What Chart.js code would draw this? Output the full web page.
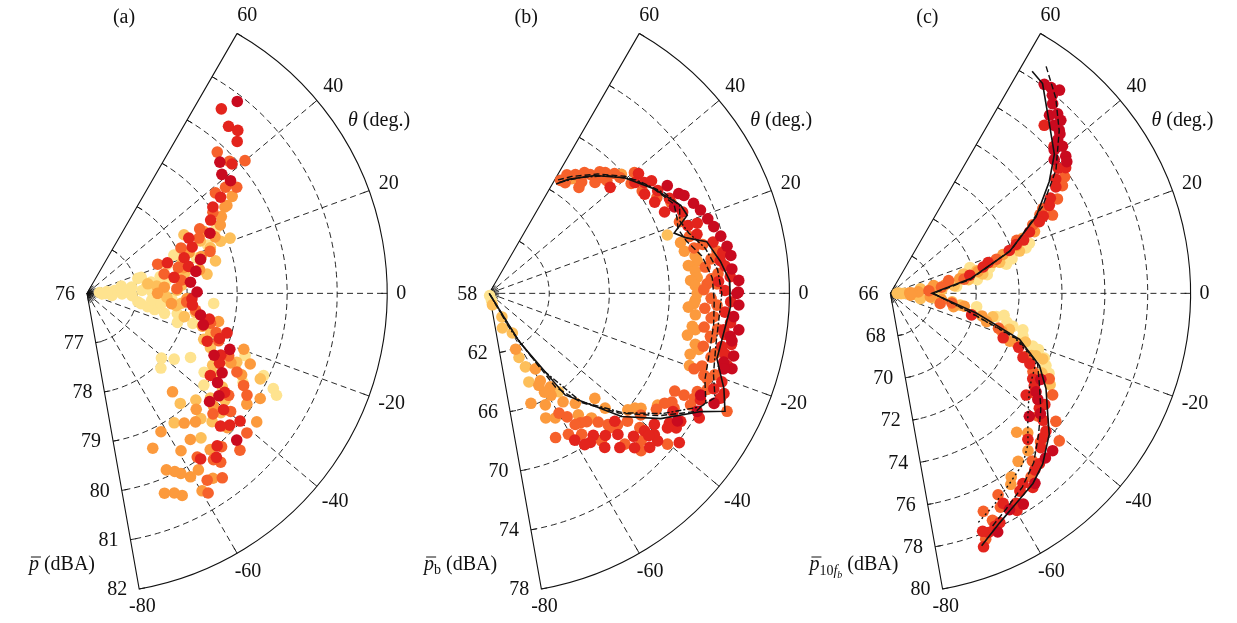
<!DOCTYPE html>
<html>
<head>
<meta charset="utf-8">
<title>Polar directivity (a)(b)(c)</title>
<script src="https://cdn.jsdelivr.net/npm/chart.js@4.4.1/dist/chart.umd.min.js"></script>
<style>
  body { margin: 0; background: #fff; }
  #wrap { position: relative; width: 1237px; height: 623px; }
  #wrap canvas { position: absolute; left: 0; top: 0; }
</style>
</head>
<body>
<div id="wrap">
  <canvas id="chartA" width="1237" height="623"></canvas>
  <canvas id="chartB" width="1237" height="623"></canvas>
  <canvas id="chartC" width="1237" height="623"></canvas>
</div>
<script>
// angular and radial ticks
const thetaTicks = [-80, -60, -40, -20, 0, 20, 40, 60];
const radialA = [76, 77, 78, 79, 80, 81, 82];
const radialB = [58, 62, 66, 70, 74, 78];
const radialC = [66, 68, 70, 72, 74, 76, 78, 80];

// point groups, [theta (deg), level (dBA)], lightest colour first
// panel (a)
const aPts0 = [[0,76.36],[12,76.7],[16.5,77.06],[-9.5,77.03],[-13.6,77.39],[0,77.54],[-12.7,77.85],[16.6,77.13],[8,76.9],[6,76.55],[-1,76.7],[-12.6,77.24],[-14.6,77.6],[4,76.25],[-5,76.5],[10,77.3],[-6,77.3],[3,77.1],[20,77.7],[24,77.9],[-18,77.9],[-16,78.2],[18,78.3],[22,78.6],[27,78.9],[2,76.8],[-3,76.9],[7,77.2],[-8,77.5],[13,77.5],[-11,77.1],[1,77.3],[5,76.4],[-2,76.3],[9,77.6],[-4,77.7],[-27.3,80.19],[-25.2,79.9],[-21.7,79.4],[-30,79.6],[-26,79.1],[-28.5,80.31],[-37.3,78.19],[-45.6,78.11],[-32,78.44],[-41.3,77.98],[-4.6,78.54],[-34.2,78.83],[-38.4,78.98]];
const aPts1 = [[21.3,79.07],[21.5,78.87],[20.4,78.63],[14.3,78.65],[9.2,78.43],[31.4,78.27],[9,77.23],[5,77.9],[12,78.0],[25,78.5],[6,77.4],[2,77.8],[14,77.9],[18,78.0],[-3,77.6],[-8,77.8],[-6,77.9],[-10,78.2],[-13.6,78.0],[-18,78.6],[-21.7,78.51],[-24,78.7],[-24.9,79.3],[-26.5,79.87],[-30,78.9],[-33,79.0],[-35,79.3],[-38,79.5],[-40.6,79.25],[-42,79.6],[-44.7,79.06],[-46,79.6],[-48,79.4],[-50,78.9],[-52,79.7],[-56.3,79.14]];
const aPts2 = [[34,79.5],[32.3,79.26],[32.4,79.31],[30,79.1],[27.4,79.0],[28.1,78.65],[24,78.8],[22,78.2],[18,78.4],[15,78.0],[12,78.3],[4.6,77.55],[0,77.41],[-3,78.0],[-7,77.7],[-12.2,78.69],[-16,78.4],[-19.8,79.33],[-23.6,79.56],[-26,79.2],[-28,79.5],[-31.5,80.06],[-35,79.9],[-37.4,80.27],[-42,79.4],[-44,79.9],[-47,79.2],[-49.3,78.62],[-50.1,79.38],[-52,80.0],[-53.4,79.26],[-55,79.6],[-56,80.5],[-58,80.2],[-59.4,79.69],[-60,80.6],[-60.8,80.24],[-62.1,79.16],[-62.7,80.09],[-64,80.0],[-65,80.5],[-66,79.9],[-66.6,80.39],[-67.2,79.39],[-69,80.32]];
const aPts3 = [[47.6,79.86],[43.1,79.9],[40.3,80.14],[37.7,79.5],[35.6,79.68],[38.3,79.27],[33,79.0],[30,78.6],[26.5,78.5],[26,78.09],[19,78.6],[16,77.9],[14.2,77.59],[22.6,77.53],[8,77.9],[3,77.8],[-5,78.0],[-9,78.2],[-13.7,78.54],[-17,78.7],[-20,78.8],[-24,79.1],[-27.9,79.39],[-30.7,79.64],[-32.7,79.8],[-36,79.5],[-39.7,79.73],[-41.4,80.26],[-44,79.5],[-46,80.4],[-49,80.1],[-51.9,80.33],[-53,80.2],[-54,80.6],[-56.3,79.97],[-57.5,80.47],[-59,80.7]];
const aPts4 = [[54.2,80.59],[50,80.4],[47.5,80.46],[45.6,80.29],[42,79.9],[36,79.3],[34.7,79.06],[30.9,78.88],[28.7,78.32],[24,78.3],[20.3,78.07],[21,77.72],[15,78.1],[10.5,77.77],[-3,78.1],[-6.4,78.12],[-12,78.5],[-15.9,78.91],[-19,78.8],[-21.9,78.59],[-25,78.95],[-28,79.0],[-33.9,78.97],[-36,79.4],[-40.1,80.0],[-40.7,79.6],[-43,79.9],[-45.1,79.78],[-49.8,80.03],[-52,80.2],[-55.8,80.04]];
const aPts5 = [[52.2,80.9],[44.9,79.75],[41.7,79.61],[38.4,79.66],[26.3,78.74],[16.8,78.37],[11.5,78.22],[6.2,78.08],[0.7,78.2],[-10.9,78.31],[-15.3,78.41],[-21.6,79.07],[-26.2,78.83],[-30.7,79.14],[-34.6,79.17],[-38.1,79.35],[-41.7,79.28],[-44.7,80.21]];

// panel (b)
const bPts0 = [[-80,58.15],[-72,58.5]];
const bPts1 = [[18.3,70.5],[-55.1,66.07],[-66.1,64.52],[-65.3,62.75],[-69.4,60.49],[-60,61.08],[-74.6,58.8],[-62,59.8],[-64,63.5]];
const bPts2 = [[54.5,67.48],[42.3,69.9],[15,71.2],[12.3,71.31],[10.4,71.95],[8.9,72.03],[8,71.4],[6.3,71.81],[4.4,71.9],[3.7,71.45],[2.2,71.74],[0,71.86],[-1.9,71.74],[-2.9,71.66],[-4,71.3],[-6,71.81],[-9.3,71.71],[-10.1,71.95],[-12,71.5],[-14,72.15],[-15.1,72.47],[-17,72.0],[-20,72.2],[-33.8,71.5],[-37.4,70.73],[-38.5,70.4],[-40.3,70.11],[-45,68.92],[-45.1,67.97],[-50.9,68.8],[-52.2,67.36],[-54,68.1],[-56,66.8],[-57,65.5],[-58.8,63.94],[-59,66.0],[-60,64.8],[-61,65.6],[-61.9,65.01],[-62.3,67.47],[-63.5,66.38],[-64.9,62.15],[-65.8,67.19],[-69.4,65.9]];
const bPts3 = [[58,66.96],[57,67.5],[55.8,67.0],[54.3,67.84],[52,68.3],[50.6,67.7],[50,67.3],[49.9,68.45],[48,69.0],[46.6,68.26],[46.4,69.21],[46.2,68.8],[44,69.6],[44,68.9],[41.8,69.69],[40,70.63],[38,70.0],[34,70.3],[30,70.9],[26.9,71.57],[20.8,71.56],[16,71.87],[13,72.6],[12.6,71.98],[10.6,73.44],[8.9,72.96],[7,72.5],[5,73.3],[3.8,72.82],[2.5,72.53],[2.4,73.19],[1,72.3],[-1.3,72.79],[-3,73.2],[-4,72.4],[-6,73.04],[-6.4,72.88],[-9,72.5],[-9,73.4],[-11.1,73.02],[-11.4,73.08],[-14,72.7],[-15,73.6],[-16.2,73.39],[-19,73.0],[-20,74.0],[-20.4,72.56],[-21.1,73.33],[-21.6,73.62],[-24,73.9],[-25.5,73.36],[-26.6,75.72],[-27.3,73.38],[-27.8,72.68],[-28,72.0],[-29.2,73.37],[-31,72.2],[-32.1,72.54],[-32.3,71.83],[-35,71.6],[-39,71.0],[-40.5,73.62],[-42,71.5],[-43,70.6],[-44.4,72.17],[-46,70.3],[-46.3,72.64],[-48.1,69.86],[-48.3,71.58],[-48.3,70.1],[-50,69.3],[-53,70.42],[-53,68.8],[-55.1,68.62],[-57,69.31],[-57,68.52],[-58,67.8],[-60,67.3],[-60.9,68.85],[-65.5,68.66]];
const bPts4 = [[41.5,68.76],[39,70.8],[37.5,70.24],[35.8,70.75],[35,71.2],[32.8,70.32],[31.6,71.18],[29.1,70.62],[28,71.6],[25.1,70.9],[23,72.0],[19,72.0],[18.8,72.64],[16,72.4],[13,73.3],[10,73.8],[8.1,73.55],[6.7,73.82],[4,74.1],[3,73.3],[0.7,73.71],[-2,74.1],[-4.6,73.76],[-7,74.2],[-8.9,73.81],[-10,73.95],[-12,74.5],[-13,73.9],[-14.6,74.23],[-17,74.6],[-21,74.6],[-23.2,74.28],[-23.3,75.03],[-24.6,74.94],[-27,73.8],[-30.9,74.31],[-33,72.6],[-34,73.39],[-36,72.84],[-36,73.4],[-37.3,72.93],[-38.4,74.16],[-38.7,72.1],[-40.8,72.53],[-41.5,72.98],[-41.8,71.88],[-42,72.3],[-44.1,72.89],[-45,71.6],[-45.8,70.0],[-47,72.2],[-47.9,70.79],[-50,71.54],[-51,70.3],[-53.4,70.91],[-54,69.8],[-56.1,70.08],[-58,70.0],[-60,69.4]];
const bPts5 = [[31.4,71.9],[28,72.3],[26.9,72.55],[25.2,71.64],[24,72.9],[21.7,73.15],[19,73.4],[16.7,73.62],[14,73.9],[11.3,74.16],[9,74.3],[5.8,74.25],[3,74.65],[0.3,74.6],[0,74.5],[-2.7,74.65],[-5.5,74.36],[-8.4,74.81],[-10.2,74.32],[-11.2,74.49],[-14.5,74.82],[-16.5,74.3],[-17.4,74.95],[-18,74.43],[-25.9,73.66],[-26.3,74.71],[-29.8,73.97],[-34.4,73.2]];

// panel (c)
const cPts0 = [[20,72.9],[18.7,72.68],[18.1,69.9],[16,71.9],[14.7,70.79],[14.2,71.58],[11,70.6],[9,70.1],[8.2,69.13],[6,69.1],[5,68.2],[-8.9,70.07],[-11,71.4],[-12.5,71.06],[-14,71.6],[-15.2,71.92],[-15.5,72.41],[-18,72.5],[-20.5,73.09],[-21,73.4],[-23,73.8],[-25.1,74.01],[-27,74.3]];
const cPts1 = [[18.3,72.34],[16,71.3],[15,69.53],[14.8,70.16],[12,70.4],[10,69.7],[8.8,67.42],[7,69.0],[4,68.4],[2,66.4],[0,66.32],[0,66.63],[-2,66.5],[-3,67.2],[-6,68.0],[-8,68.9],[-9.7,69.3],[-10,67.42],[-13,70.9],[-17,71.8],[-20,72.7],[-23.4,73.4],[-23.5,73.75],[-24,73.2],[-28,74.0],[-30,74.6]];
const cPts2 = [[23.4,73.32],[22.8,72.7],[21,72.3],[19.2,71.56],[17,71.0],[14,70.2],[12,69.3],[10.4,68.05],[9,68.6],[6,67.9],[3,67.3],[2,66.9],[1,67.0],[-5,66.94],[-5.2,67.87],[-7,68.4],[-10,69.5],[-12.1,69.01],[-14,70.4],[-16.5,70.68],[-19,71.5],[-21.6,72.31],[-22,72.0],[-45.7,75.17],[-48,74.8],[-49.1,75.8],[-53,75.9],[-56.9,76.32],[-58,76.6]];
const cPts3 = [[34,75.8],[32.3,75.49],[29.7,74.97],[29.3,74.15],[28,73.9],[26,74.41],[25.9,73.38],[23,72.4],[18,71.2],[12.5,68.78],[11,69.5],[7,68.4],[4,67.8],[-9,68.9],[-11.6,68.37],[-18,71.3],[-25,73.0],[-28.5,74.43],[-29,73.6],[-32.3,74.95],[-35,74.2],[-38,75.79],[-40,75.0],[-41.4,76.5],[-45,75.9],[-50,76.3],[-52.8,76.85],[-57,77.1],[-62.1,76.73],[-63,77.3],[-66,77.7],[-67.1,77.14],[-69,78.4]];
const cPts4 = [[47.8,76.68],[42.2,76.3],[37,75.8],[35.9,76.09],[34.9,75.4],[33,75.2],[31,74.7],[29.2,74.49],[27,74.0],[25.9,73.72],[24,73.1],[22,72.7],[21.4,72.3],[20,71.9],[17.6,70.78],[16,70.5],[13,69.8],[-15,69.92],[-21.7,71.66],[-23,72.5],[-26,72.88],[-27,73.3],[-31.2,73.76],[-33,74.0],[-36,74.9],[-37.1,73.94],[-37.9,74.8],[-40,75.3],[-41.8,75.73],[-43.7,75.83],[-46,76.1],[-47,75.4],[-49.1,76.61],[-51,76.7],[-54,77.3],[-55.4,76.88],[-57,77.1],[-59.3,77.49],[-60,77.8],[-62,77.2],[-64.7,77.94],[-66,78.0],[-67.9,78.15],[-69,78.0],[-70,78.7]];
const cPts5 = [[53.9,78.18],[52.3,78.25],[51,78.0],[50.5,78.4],[49.7,77.7],[48.5,77.2],[47.3,77.5],[46,77.0],[45.7,77.38],[44.3,77.0],[43.5,76.9],[42.8,76.63],[41.5,76.2],[40.8,76.6],[39.5,75.9],[38.3,76.42],[37,76.3],[-30,74.1],[-34.3,74.22],[-36,74.5],[-39,75.0],[-41.8,74.69],[-44.4,76.59],[-47,76.6],[-53,77.2],[-58,77.7],[-61.4,77.6],[-66,78.3]];

// averaged curves
const bSolid = [[58.8,66.6],[55.5,67.3],[48.4,68.6],[40.8,69.9],[32.5,71.05],[24.9,72.07],[21.7,72.2],[18.2,70.97],[16,71.6],[13.5,72.9],[8,73.55],[3,74.05],[-1,74.05],[-3.2,74.1],[-9.7,73.85],[-16.2,73.8],[-22.3,74.9],[-26.8,75.6],[-29.4,74.2],[-36.4,72.2],[-43.2,70.1],[-53.5,66.5],[-58.4,61.8],[-60,58]];
const bDash = [[59,66.9],[55,67.6],[48,68.8],[41,70.0],[33,71.0],[26,71.7],[22,71.5],[19,71.3],[15,71.6],[10,72.4],[4,72.9],[-2,73.0],[-8,73.1],[-15,73.2],[-22,73.5],[-27,74.2],[-30,73.9],[-36,72.0],[-43,69.8],[-50,67.6],[-55,65.7],[-58.5,61.6],[-61,58]];
const bDashDot = [[58,66.8],[52,67.9],[45,69.2],[38,70.4],[30,71.5],[25,72.0],[21,71.6],[17,71.9],[12,72.7],[6,73.3],[0,73.5],[-6,73.4],[-13,73.5],[-20,73.9],[-25,74.6],[-28.5,74.0],[-35,72.1],[-42,70.0],[-50,67.5],[-56,64.0],[-60,60.8],[-62,58]];
const cSolid = [[57.7,78.37],[54.3,78.16],[47.3,76.92],[40.6,76.07],[35.4,75.09],[28,73.7],[19.5,71.9],[10.4,69.78],[0,67.94],[-13.1,70.13],[-19.8,72.4],[-26.1,73.74],[-31.7,74.53],[-37.2,75.2],[-41.9,75.95],[-48.5,76.72],[-53.4,77.15],[-59.3,77.49],[-64.7,77.94],[-70.3,78.62]];
const cDash = [[55.8,78.92],[50,78.0],[44.2,76.98],[37,75.67],[30,74.2],[20,72.0],[10,69.8],[0,68.0],[-14,69.95],[-20,72.3],[-25.5,73.6],[-32,74.2],[-38,74.9],[-44,75.6],[-50,76.4],[-56,77.0],[-62,77.5],[-67,78.0]];
const cDashDot = [[0,68.0],[-14,69.9],[-20,72.2],[-25.6,73.53],[-34.7,73.88],[-42.5,74.69],[-47.9,75.57],[-52.4,76.13],[-58.2,76.54],[-64.5,77.11],[-69.7,77.59]];

const groupColors = ["#fee38f", "#fdbf5a", "#fc9a3d", "#f6612b", "#e3241d", "#c90a1f"];
const DEG = Math.PI / 180;
const SERIF = "'Liberation Serif', 'DejaVu Serif', serif";
const W = 1237, H = 623;
const R_PX = 303; // pixel length of the full radial axis

// polar -> cartesian in units of the radial axis length
function toXY(pt, rMin, rMax) {
  const rho = (pt[1] - rMin) / (rMax - rMin);
  return { x: rho * Math.cos(pt[0] * DEG), y: rho * Math.sin(pt[0] * DEG) };
}

// grid, ticks and labels of a sector plot
const polarFrame = {
  id: "polarFrame",
  beforeDatasetsDraw(chart) {
    const o = chart.options.plugins.polarFrame;
    const ctx = chart.ctx;
    const cx = chart.scales.x.getPixelForValue(0);
    const cy = chart.scales.y.getPixelForValue(0);
    const R = chart.scales.x.getPixelForValue(1) - cx;
    const tMin = thetaTicks[0], tMax = thetaTicks[thetaTicks.length - 1];
    const rad = v => (v - o.rMin) / (o.rMax - o.rMin) * R;
    ctx.save();
    ctx.strokeStyle = "#111";
    ctx.lineWidth = 0.9;

    // dashed circles
    ctx.setLineDash([6, 4]);
    o.rTicks.slice(1, -1).forEach(v => {
      ctx.beginPath();
      ctx.arc(cx, cy, rad(v), -tMax * DEG, -tMin * DEG, false);
      ctx.stroke();
    });
    // dashed rays
    thetaTicks.slice(1, -1).forEach(t => {
      ctx.beginPath();
      ctx.moveTo(cx, cy);
      ctx.lineTo(cx + R * Math.cos(t * DEG), cy - R * Math.sin(t * DEG));
      ctx.stroke();
    });
    ctx.setLineDash([]);

    // short spokes at the origin
    for (let t = tMin; t <= tMax; t += 10) {
      ctx.beginPath();
      ctx.moveTo(cx, cy);
      ctx.lineTo(cx + 10 * Math.cos(t * DEG), cy - 10 * Math.sin(t * DEG));
      ctx.stroke();
    }

    // solid frame
    ctx.lineWidth = 1.1;
    ctx.beginPath();
    ctx.moveTo(cx + R * Math.cos(tMax * DEG), cy - R * Math.sin(tMax * DEG));
    ctx.lineTo(cx, cy);
    ctx.lineTo(cx + R * Math.cos(tMin * DEG), cy - R * Math.sin(tMin * DEG));
    ctx.arc(cx, cy, R, -tMin * DEG, -tMax * DEG, true);
    ctx.stroke();

    // radial ticks on both straight edges
    ctx.lineWidth = 0.9;
    o.rTicks.slice(1).forEach(v => {
      const r = rad(v);
      [[tMin, 1], [tMax, -1]].forEach(([t, s]) => {
        const px = cx + r * Math.cos(t * DEG), py = cy - r * Math.sin(t * DEG);
        const nx = -Math.sin(t * DEG) * s, ny = -Math.cos(t * DEG) * s;
        ctx.beginPath();
        ctx.moveTo(px, py);
        ctx.lineTo(px + 6 * nx, py + 6 * ny);
        ctx.stroke();
      });
    });
    // angular ticks on the arc
    thetaTicks.slice(1, -1).forEach(t => {
      ctx.beginPath();
      ctx.moveTo(cx + R * Math.cos(t * DEG), cy - R * Math.sin(t * DEG));
      ctx.lineTo(cx + (R - 6) * Math.cos(t * DEG), cy - (R - 6) * Math.sin(t * DEG));
      ctx.stroke();
    });
    ctx.restore();
  },
  afterDraw(chart) {
    const o = chart.options.plugins.polarFrame;
    const ctx = chart.ctx;
    const cx = chart.scales.x.getPixelForValue(0);
    const cy = chart.scales.y.getPixelForValue(0);
    const R = chart.scales.x.getPixelForValue(1) - cx;
    const tMin = thetaTicks[0];
    ctx.save();
    ctx.fillStyle = "#111";
    ctx.font = "20px " + SERIF;

    // theta tick labels
    ctx.textAlign = "center";
    ctx.textBaseline = "middle";
    thetaTicks.forEach(t => {
      const s = String(t);
      const w = ctx.measureText(s).width;
      const d = R + 9 + (w / 2) * Math.abs(Math.cos(t * DEG)) + 7 * Math.abs(Math.sin(t * DEG));
      ctx.fillText(s, cx + d * Math.cos(t * DEG), cy - d * Math.sin(t * DEG));
    });

    // radial tick labels along the -80 edge
    ctx.textAlign = "right";
    o.rTicks.forEach(v => {
      const r = (v - o.rMin) / (o.rMax - o.rMin) * R;
      ctx.fillText(String(v), cx + r * Math.cos(tMin * DEG) - 12, cy - r * Math.sin(tMin * DEG) + 1);
    });

    // panel letter
    ctx.textAlign = "center";
    ctx.fillText(o.letter, cx + 37, 18);

    // theta axis name
    ctx.textAlign = "left";
    ctx.textBaseline = "alphabetic";
    ctx.font = "italic 20px " + SERIF;
    ctx.fillText("\u03b8", cx + 261, 126);
    const tw = ctx.measureText("\u03b8").width;
    ctx.font = "20px " + SERIF;
    ctx.fillText(" (deg.)", cx + 261 + tw, 126);

    // radial axis name, right aligned
    let total = 0;
    o.rTitle.forEach(p => { ctx.font = p.f; p.w = ctx.measureText(p.t).width; total += p.w; });
    let x = cx + 8 - total;
    const base = 570;
    o.rTitle.forEach(p => {
      ctx.font = p.f;
      ctx.fillText(p.t, x, base + (p.dy || 0));
      if (p.over) {
        ctx.beginPath();
        ctx.lineWidth = 1;
        ctx.strokeStyle = "#111";
        ctx.moveTo(x + 2, base - 13);
        ctx.lineTo(x + p.w + 2, base - 13);
        ctx.stroke();
      }
      x += p.w;
    });
    ctx.restore();
  }
};

function buildPanel(canvasId, ox, oy, rTicks, groups, curves, letter, rTitle) {
  const rMin = rTicks[0], rMax = rTicks[rTicks.length - 1];
  const datasets = [];
  curves.forEach((c, i) => {
    datasets.push({
      data: c.pts.map(p => toXY(p, rMin, rMax)),
      showLine: true,
      borderColor: "#111",
      borderWidth: c.w,
      borderDash: c.dash,
      pointRadius: 0,
      fill: false,
      order: i,
      clip: false
    });
  });
  groups.forEach((g, i) => {
    datasets.push({
      data: g.map(p => toXY(p, rMin, rMax)),
      showLine: false,
      backgroundColor: groupColors[i],
      borderColor: groupColors[i],
      pointRadius: 5.8,
      pointBorderWidth: 0,
      pointHoverRadius: 5.8,
      order: 20 - i,
      clip: false
    });
  });
  return new Chart(document.getElementById(canvasId), {
    type: "scatter",
    data: { datasets },
    options: {
      responsive: false,
      animation: false,
      devicePixelRatio: 1,
      events: [],
      layout: { padding: 0 },
      scales: {
        x: { type: "linear", display: false, min: -ox / R_PX, max: (W - ox) / R_PX },
        y: { type: "linear", display: false, min: -(H - oy) / R_PX, max: oy / R_PX }
      },
      plugins: {
        legend: { display: false },
        tooltip: { enabled: false },
        polarFrame: { rMin, rMax, rTicks, letter, rTitle }
      }
    },
    plugins: [polarFrame]
  });
}

const fMain = "20px " + SERIF;
const fItal = "italic 20px " + SERIF;

buildPanel("chartA", 82, 293, radialA,
  [aPts0, aPts1, aPts2, aPts3, aPts4, aPts5], [], "(a)",
  [{ t: "p", f: fItal, over: true }, { t: " (dBA)", f: fMain }]);

buildPanel("chartB", 488, 293, radialB,
  [bPts0, bPts1, bPts2, bPts3, bPts4, bPts5],
  [{ pts: bSolid, w: 1.6, dash: [] }, { pts: bDash, w: 1.4, dash: [6, 3] }, { pts: bDashDot, w: 1.4, dash: [6, 2, 2, 2] }],
  "(b)",
  [{ t: "p", f: fItal, over: true }, { t: "b", f: "14px " + SERIF, dy: 4 }, { t: " (dBA)", f: fMain }]);

buildPanel("chartC", 893, 293, radialC,
  [cPts0, cPts1, cPts2, cPts3, cPts4, cPts5],
  [{ pts: cSolid, w: 1.6, dash: [] }, { pts: cDash, w: 1.4, dash: [6, 3] }, { pts: cDashDot, w: 1.4, dash: [2, 3] }],
  "(c)",
  [{ t: "p", f: fItal, over: true }, { t: "10", f: "14px " + SERIF, dy: 5 }, { t: "f", f: "italic 14px " + SERIF, dy: 5 },
   { t: "b", f: "italic 10px " + SERIF, dy: 8 }, { t: " (dBA)", f: fMain }]);
</script>
</body>
</html>
